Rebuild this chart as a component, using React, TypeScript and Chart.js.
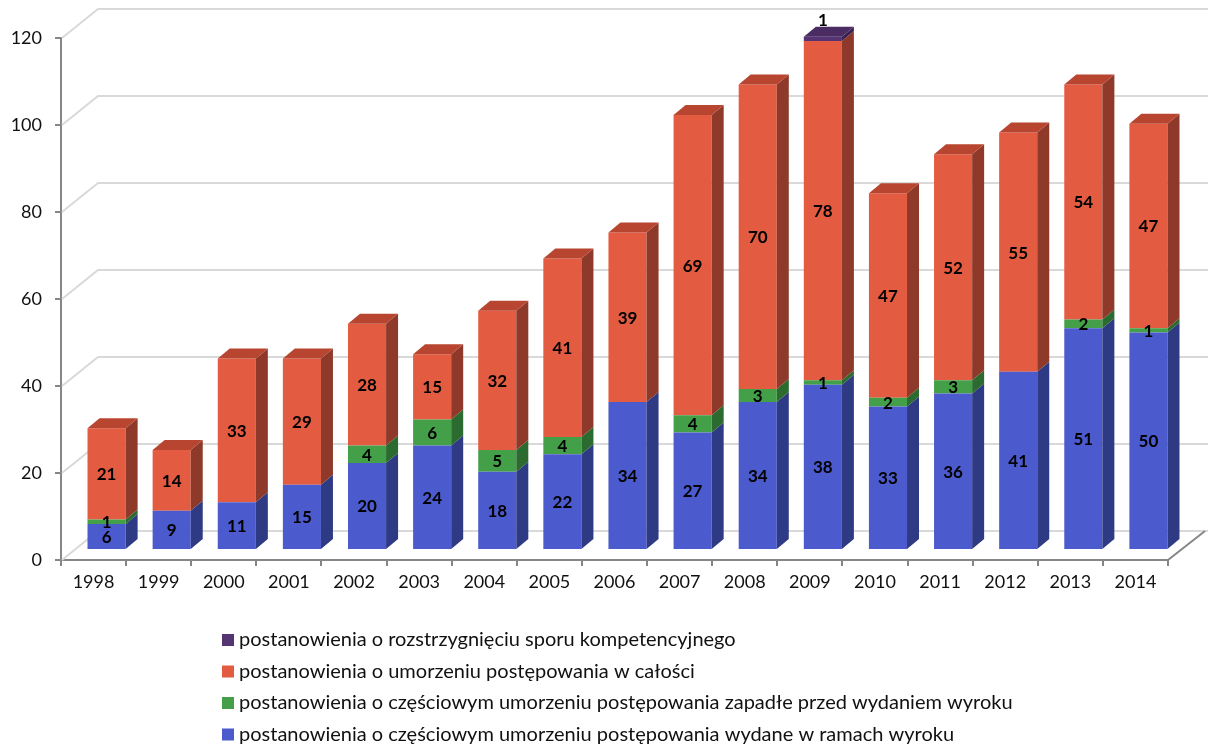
import React, { useEffect, useRef } from 'react';
import { Chart, registerables } from 'chart.js';

Chart.register(...registerables);

const years = ['1998', '1999', '2000', '2001', '2002', '2003', '2004', '2005', '2006', '2007', '2008', '2009', '2010', '2011', '2012', '2013', '2014'];
const wydaneWRamachWyroku = [6, 9, 11, 15, 20, 24, 18, 22, 34, 27, 34, 38, 33, 36, 41, 51, 50];
const zapadlePrzedWyrokiem = [1, 0, 0, 0, 4, 6, 5, 4, 0, 4, 3, 1, 2, 3, 0, 2, 1];
const umorzenieWCalosci = [21, 14, 33, 29, 28, 15, 32, 41, 39, 69, 70, 78, 47, 52, 55, 54, 47];
const sporKompetencyjny = [0, 0, 0, 0, 0, 0, 0, 0, 0, 0, 0, 1, 0, 0, 0, 0, 0];

const seriesNames = [
  'postanowienia o częściowym umorzeniu postępowania wydane w ramach wyroku',
  'postanowienia o częściowym umorzeniu postępowania zapadłe przed wydaniem wyroku',
  'postanowienia o umorzeniu postępowania w całości',
  'postanowienia o rozstrzygnięciu sporu kompetencyjnego',
];
const seriesValues = [wydaneWRamachWyroku, zapadlePrzedWyrokiem, umorzenieWCalosci, sporKompetencyjny];
const frontColors = ['#4B5BCD', '#44A048', '#E35B40', '#563372'];
const sideColors = ['#2F3A84', '#2B6B2F', '#8E3929', '#3A2150'];
const topColors = ['#3E4CB0', '#379039', '#B8452F', '#4A2C63'];

const yMin = 0;
const yMax = 120;
const yStep = 20;

// 3D geometry (styling)
const WALL_DX = 37;
const WALL_DY = -29;
const BAR_SHIFT_X = 13;
const BAR_SHIFT_Y = -10;
const BAR_DX = 12;
const BAR_DY = -10;
const AXIS_COLOR = '#868686';
const GRID_COLOR = '#D9D9D9';
const FONT = 'Lato, "Open Sans", sans-serif';

const threeD = {
  id: 'threeD',
  beforeDatasetsDraw(chart: any) {
    const { ctx, chartArea, scales } = chart;
    const ys = scales.y;
    ctx.save();
    ctx.strokeStyle = GRID_COLOR;
    ctx.lineWidth = 2;
    for (let v = yMin; v <= yMax; v += yStep) {
      const y = ys.getPixelForValue(v);
      ctx.beginPath();
      ctx.moveTo(chartArea.left + 1, y);
      ctx.lineTo(chartArea.left + WALL_DX, y + WALL_DY);
      ctx.lineTo(chart.width, y + WALL_DY);
      ctx.stroke();
    }
    // right floor edge
    ctx.strokeStyle = AXIS_COLOR;
    ctx.lineWidth = 2;
    ctx.beginPath();
    ctx.moveTo(chartArea.right, chartArea.bottom);
    ctx.lineTo(chartArea.right + WALL_DX, chartArea.bottom + WALL_DY);
    ctx.stroke();
    ctx.restore();
    ctx.save();
    ctx.translate(BAR_SHIFT_X, BAR_SHIFT_Y);
  },
  afterDatasetsDraw(chart: any) {
    const { ctx } = chart;
    const n = years.length;
    const ds = chart.data.datasets;
    for (let i = 0; i < n; i++) {
      let topIdx = -1;
      for (let d = 0; d < ds.length; d++) if (ds[d].data[i]) topIdx = d;
      for (let d = 0; d < ds.length; d++) {
        const v = ds[d].data[i];
        if (!v) continue;
        const el: any = chart.getDatasetMeta(d).data[i];
        const { x, y, base, width } = el.getProps(['x', 'y', 'base', 'width'], true);
        const l = x - width / 2;
        const r = x + width / 2;
        ctx.fillStyle = sideColors[d];
        ctx.beginPath();
        ctx.moveTo(r, y);
        ctx.lineTo(r + BAR_DX, y + BAR_DY);
        ctx.lineTo(r + BAR_DX, base + BAR_DY);
        ctx.lineTo(r, base);
        ctx.closePath();
        ctx.fill();
        if (d === topIdx) {
          ctx.fillStyle = topColors[d];
          ctx.beginPath();
          ctx.moveTo(l, y);
          ctx.lineTo(l + BAR_DX, y + BAR_DY);
          ctx.lineTo(r + BAR_DX, y + BAR_DY);
          ctx.lineTo(r, y);
          ctx.closePath();
          ctx.fill();
        }
      }
    }
    // labels
    ctx.fillStyle = '#000';
    ctx.font = `bold 17px ${FONT}`;
    ctx.textAlign = 'center';
    for (let d = 0; d < ds.length; d++) {
      const meta = chart.getDatasetMeta(d);
      for (let i = 0; i < n; i++) {
        const v = ds[d].data[i];
        if (!v) continue;
        const el: any = meta.data[i];
        const { x, y, base } = el.getProps(['x', 'y', 'base'], true);
        if (d === ds.length - 1) {
          ctx.textBaseline = 'bottom';
          ctx.fillText(String(v), x, y + BAR_DY + 2);
        } else {
          ctx.textBaseline = 'middle';
          ctx.fillText(String(v), x, (y + base) / 2 + 1);
        }
      }
    }
    ctx.restore();
  },
  afterDraw(chart: any) {
    const { ctx } = chart;
    ctx.save();
    ctx.font = `20px ${FONT}`;
    ctx.textBaseline = 'middle';
    ctx.textAlign = 'left';
    const order = [3, 2, 1, 0];
    order.forEach((d, k) => {
      const cy = 640 + k * 31.5;
      ctx.fillStyle = frontColors[d];
      ctx.fillRect(222, cy - 6, 12, 12);
      ctx.fillStyle = '#111';
      ctx.fillText(seriesNames[d], 239, cy);
    });
    ctx.restore();
  },
};

export default function App() {
  const ref = useRef<HTMLCanvasElement>(null);
  useEffect(() => {
    const canvas = ref.current!;
    const chart = new Chart(canvas, {
      type: 'bar',
      data: {
        labels: years,
        datasets: seriesValues.map((vals, d) => ({
          label: seriesNames[d],
          data: vals,
          backgroundColor: frontColors[d],
          borderWidth: 0,
          barPercentage: 0.585,
          categoryPercentage: 1,
          clip: false as any,
        })),
      },
      options: {
        animation: false,
        responsive: false,
        maintainAspectRatio: false,
        layout: { padding: { left: 0, right: 40, top: 38, bottom: 0 } },
        plugins: { legend: { display: false }, tooltip: { enabled: false } },
        scales: {
          x: {
            stacked: true,
            grid: { display: true, drawOnChartArea: false, drawTicks: true, tickLength: 6, color: AXIS_COLOR, lineWidth: 2, offset: true },
            border: { color: AXIS_COLOR, width: 2 },
            ticks: { font: { family: FONT, size: 18 }, color: '#111', padding: 5, maxRotation: 0 },
            afterFit: (s: any) => { s.height = 186; },
          },
          y: {
            stacked: true,
            min: yMin,
            max: yMax,
            ticks: { stepSize: yStep, font: { family: FONT, size: 18 }, color: '#111', padding: 13 },
            grid: { drawOnChartArea: false, drawTicks: true, tickLength: 6, color: AXIS_COLOR, lineWidth: 2 },
            border: { color: AXIS_COLOR, width: 2 },
            afterFit: (s: any) => { s.width = 61; },
          },
        },
      },
      plugins: [threeD],
    });
    return () => chart.destroy();
  }, []);
  return (
    <div style={{ position: 'fixed', left: 0, top: 0, width: 1208, height: 746, background: '#fff' }}>
      <canvas ref={ref} width={1208} height={746} style={{ display: 'block', width: 1208, height: 746 }} />
    </div>
  );
}
